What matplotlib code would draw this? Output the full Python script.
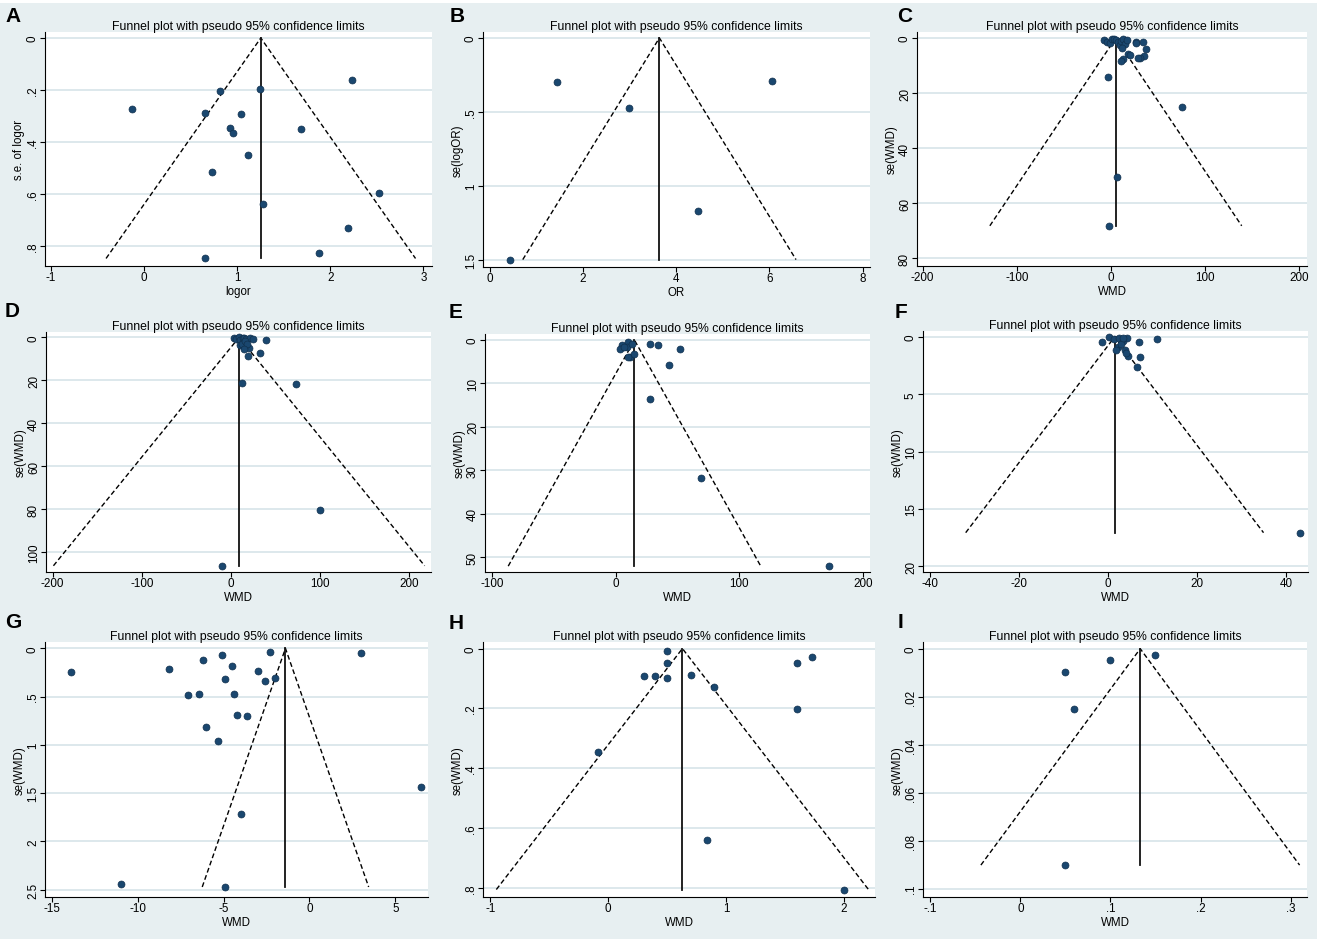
import matplotlib
matplotlib.use("Agg")
import matplotlib.pyplot as plt
from matplotlib.patches import Rectangle
from matplotlib.ticker import FuncFormatter

# effect sizes / standard errors
a_es = [2.23, 1.25, 0.82, -0.13, 0.65, 1.04, 0.92, 0.96, 1.69, 1.12, 0.73, 2.52, 1.28, 2.19, 1.88, 0.66]
a_se = [0.161, 0.197, 0.204, 0.274, 0.288, 0.292, 0.345, 0.364, 0.350, 0.449, 0.517, 0.598, 0.638, 0.732, 0.828, 0.848]
a_pooled = 1.254

b_es = [1.44, 2.98, 6.06, 4.46, 0.43]
b_se = [0.297, 0.472, 0.290, 1.167, 1.495]
b_pooled = 3.64

c_es = [-8, -4.5, -1.5, 1, 3, 5, 7.5, 9, 11, 13, 15, 17, 12, 26, 27, 34, 37, 35, 31, 28.5,
        18, 20, 13, 11, -2.8, 75.4, 6.4, -2.1]
c_se = [0.6, 1.5, 1.8, 0.3, 0.2, 0.8, 1.3, 2.5, 1.0, 0.5, 2.2, 0.8, 3.5, 1.4, 1.9, 1.6, 3.9, 6.6, 7.2, 7.1,
        5.8, 6.3, 7.6, 8.2, 14.0, 25.0, 50.5, 68.2]
c_pooled = 5.0

d_es = [100.2, -9.7, 73.3, 12.7, 32.1, 18.7, 39.3, 20.2, 3.7, 6, 8.5, 10.5, 13, 14.1, 17, 21.6, 24.5,
        9.7, 14.1, 12, 16, 17.9, 14.5]
d_se = [80.5, 106.2, 21.9, 21.1, 7.3, 8.5, 1.2, 5.0, 0.1, 0.6, 0.0, 1.1, 0.4, 0.5, 0.8, 0.5, 0.9,
        3.7, 4.3, 2.9, 1.7, 2.9, 5.5]
d_pooled = 9.0

e_es = [172.8, 68.7, 28, 43.1, 51.8, 28, 34.5, 4.9, 3.5, 10.2, 9.4, 11.6, 15.1, 13, 9.7, 6.5]
e_se = [52.1, 31.9, 13.5, 5.7, 2.1, 1.0, 1.1, 1.1, 2.1, 0.4, 1.5, 4.0, 3.2, 0.9, 4.0, 1.6]
e_pooled = 15.2

f_es = [43.1, 6.4, 7.2, 4.4, 7.0, 11.0, -1.35, 0.3, 1.4, 2.5, 3.3, 4.2, 2.2, 3.7, 1.65, 2.9, 3.9, 3.4]
f_se = [17.07, 2.64, 1.77, 1.68, 0.46, 0.17, 0.46, 0.03, 0.17, 0.11, 0.31, 0.12, 0.9, 1.18, 1.16, 0.64, 1.36, 0.1]
f_pooled = 1.45

g_es = [-13.91, -8.19, -6.21, -5.12, -4.50, -4.91, -3.01, -2.29, -2.60, -2.02, 2.99, -7.10, -6.42,
        -4.40, -4.21, -3.61, -6.01, -5.30, -3.96, 6.50, -10.98, -4.91]
g_se = [0.246, 0.215, 0.118, 0.073, 0.187, 0.315, 0.232, 0.042, 0.343, 0.308, 0.048, 0.485, 0.474,
        0.474, 0.689, 0.696, 0.817, 0.956, 1.711, 1.437, 2.445, 2.472]
g_pooled = -1.40

h_es = [0.50, 0.50, 0.30, 0.40, 0.50, 0.70, 0.90, -0.09, 1.60, 1.73, 1.60, 0.84, 2.00]
h_se = [0.008, 0.048, 0.093, 0.093, 0.097, 0.088, 0.130, 0.347, 0.049, 0.029, 0.201, 0.639, 0.806]
h_pooled = 0.63

i_es = [0.149, 0.099, 0.050, 0.060, 0.050]
i_se = [0.0026, 0.0049, 0.0097, 0.0253, 0.0902]
i_pooled = 0.133

letters = ["A", "B", "C", "D", "E", "F", "G", "H", "I"]
xlabels = ["logor", "OR", "WMD", "WMD", "WMD", "WMD", "WMD", "WMD", "WMD"]
ylabels = ["s.e. of logor", "se(logOR)", "se(WMD)", "se(WMD)", "se(WMD)", "se(WMD)",
           "se(WMD)", "se(WMD)", "se(WMD)"]
xticks = [[-1, 0, 1, 2, 3], [0, 2, 4, 6, 8], [-200, -100, 0, 100, 200], [-200, -100, 0, 100, 200],
          [-100, 0, 100, 200], [-40, -20, 0, 20, 40], [-15, -10, -5, 0, 5], [-1, 0, 1, 2],
          [-0.1, 0, 0.1, 0.2, 0.3]]
yticks = [[0, 0.2, 0.4, 0.6, 0.8], [0, 0.5, 1, 1.5], [0, 20, 40, 60, 80], [0, 20, 40, 60, 80, 100],
          [0, 10, 20, 30, 40, 50], [0, 5, 10, 15, 20], [0, 0.5, 1, 1.5, 2, 2.5],
          [0, 0.2, 0.4, 0.6, 0.8], [0, 0.02, 0.04, 0.06, 0.08, 0.1]]
title = "Funnel plot with pseudo 95% confidence limits"

panels = [(a_es, a_se, a_pooled), (b_es, b_se, b_pooled), (c_es, c_se, c_pooled),
          (d_es, d_se, d_pooled), (e_es, e_se, e_pooled), (f_es, f_se, f_pooled),
          (g_es, g_se, g_pooled), (h_es, h_se, h_pooled), (i_es, i_se, i_pooled)]

# layout: plot boxes in pixels (left, top, right, bottom) and axis ranges
W, H = 1325, 945
boxes = [(45, 33, 432, 267), (483, 33, 870, 268), (917, 33, 1307, 267),
         (46, 333, 431, 573), (485, 335, 870, 573), (923, 332, 1308, 573),
         (45, 643, 428, 898), (483, 643, 875, 898), (923, 643, 1307, 898)]
xlims = [(-1.064, 3.093), (-0.143, 8.157), (-206, 208), (-207.5, 224.3), (-105.7, 205.7),
         (-41.6, 44.9), (-15.4, 6.9), (-1.063, 2.265), (-0.108, 0.318)]
ylims = [(-0.023, 0.877), (-0.04, 1.545), (-2.2, 82.8), (-2.5, 109.1), (-1.4, 53.45),
         (-0.52, 20.5), (-0.066, 2.576), (-0.022, 0.831), (-0.0028, 0.1035)]
letter_pos = [(5, 22), (450, 22), (897, 22), (5, 317), (449, 318), (895, 318),
              (5, 628), (449, 629), (898, 628)]

bg = "#e7eff1"
grid_c = "#dde8ec"
navy = "#1a476f"

plt.rcParams['font.family'] = ['Liberation Sans', 'DejaVu Sans']


def stata_fmt(v, pos):
    s = "%g" % round(v, 8)
    if s.startswith("0."):
        s = s[1:]
    elif s.startswith("-0."):
        s = "-" + s[2:]
    if s == "-0":
        s = "0"
    return s


fig = plt.figure(figsize=(W / 100, H / 100), dpi=100)
fig.patch.set_facecolor("white")
fig.patches.append(Rectangle((0, 1 - 940 / H), 1317 / W, 936 / H, transform=fig.transFigure,
                             facecolor=bg, edgecolor="none", zorder=-5))

for k, (es, se, pooled) in enumerate(panels):
    l, t, r, b = boxes[k]
    ax = fig.add_axes([l / W, 1 - b / H, (r - l) / W, (b - t) / H])
    ax.set_zorder(1)
    ax.set_facecolor("white")

    smax = max(se)
    ax.plot([pooled - 1.96 * smax, pooled, pooled + 1.96 * smax], [smax, 0, smax],
            color="black", ls=(0, (3.5, 2)), lw=1.0, zorder=2)
    ax.plot([pooled, pooled], [0, smax], color="#111111", lw=1.3, zorder=2)
    ax.scatter(es, se, s=25, color=navy, edgecolors="#10304d", linewidths=0.5, zorder=3)

    ax.set_xlim(*xlims[k])
    ax.set_ylim(ylims[k][1], ylims[k][0])
    ax.set_xticks(xticks[k])
    ax.set_yticks(yticks[k])
    ax.xaxis.set_major_formatter(FuncFormatter(stata_fmt))
    ax.yaxis.set_major_formatter(FuncFormatter(stata_fmt))
    ax.grid(axis="y", color=grid_c, lw=1.4)
    ax.set_axisbelow(True)
    for side in ["top", "right"]:
        ax.spines[side].set_visible(False)
    for side in ["left", "bottom"]:
        ax.spines[side].set_linewidth(0.8)
    ax.tick_params(direction="out", length=3.6, width=0.8, labelsize=8.4)
    ax.tick_params(axis="x", pad=0.3)
    ax.tick_params(axis="y", pad=0.8, labelrotation=90)
    for lab in ax.get_yticklabels():
        lab.set_verticalalignment("center")

    ax.set_title(title, fontsize=8.8, pad=2.4)
    ax.set_xlabel(xlabels[k], fontsize=8.3, labelpad=0.8)
    ax.set_ylabel(ylabels[k], fontsize=8.3, labelpad=1)

    lx, ly = letter_pos[k]
    fig.text(lx / W, 1 - ly / H, letters[k], fontsize=15, fontweight="bold",
             ha="left", va="baseline")

fig.savefig("out.png", dpi=100, facecolor="white")
